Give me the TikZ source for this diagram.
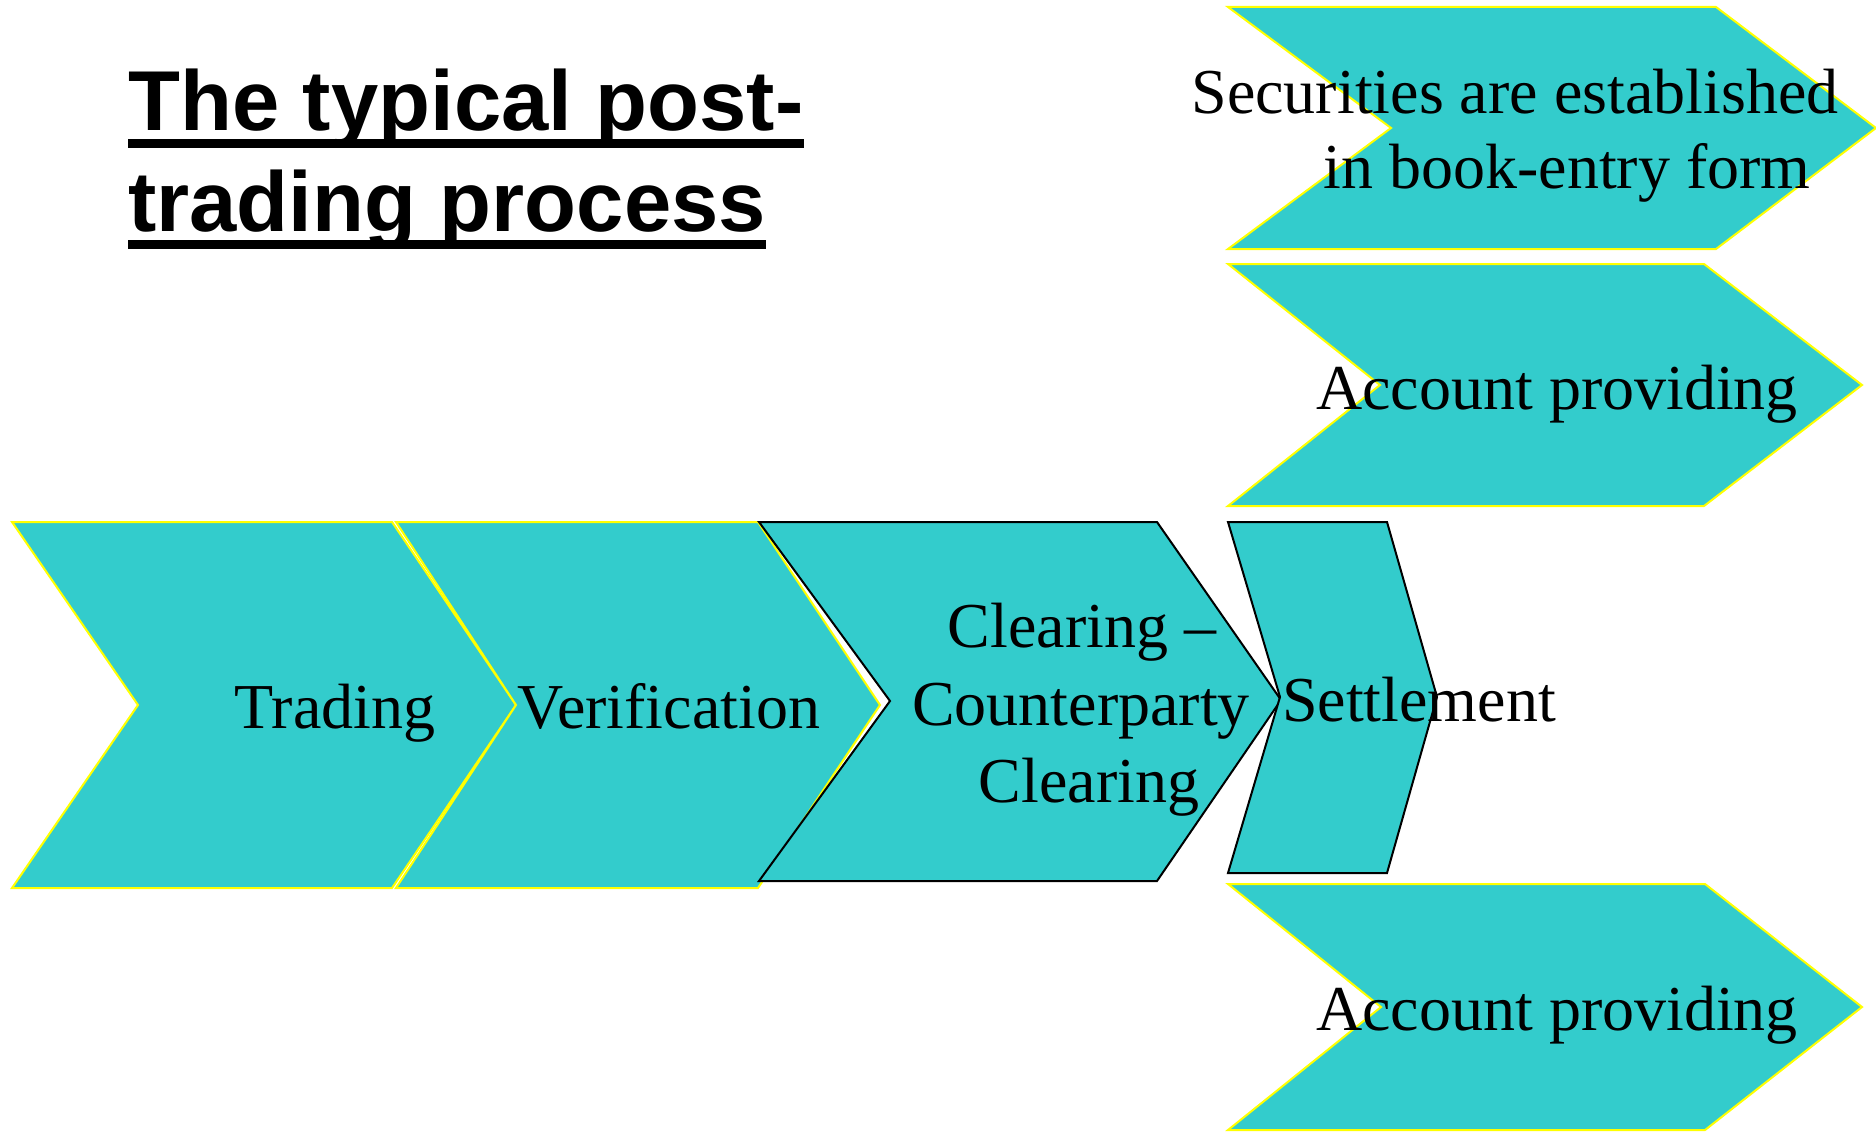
\documentclass[tikz,border=0pt]{standalone}
\usepackage{fontspec}
\setmainfont{Liberation Serif}
\newfontfamily\titlefont{Liberation Sans}
\definecolor{tealfill}{HTML}{33CCCC}
\definecolor{yelline}{HTML}{FFFF00}
\begin{document}
\begin{tikzpicture}[x=1pt,y=-1pt,
  ychev/.style={fill=tealfill, draw=yelline, line width=2pt},
  bchev/.style={fill=tealfill, draw=black, line width=2pt},
  lbl/.style={font=\fontsize{64}{77}\selectfont, inner sep=0pt, anchor=base},
  ttl/.style={font=\titlefont\bfseries\fontsize{85}{101}\selectfont, inner sep=0pt, anchor=base west},
  uline/.style={fill=black}]
\useasboundingbox (0,0) rectangle (1876,1132);
% title
\node[ttl] (t1) at (128,130) {The typical post-};
\node[ttl] (t2) at (128,231) {trading process};
\fill[uline] ([yshift=-9pt]t1.base west) rectangle ([yshift=-18pt]t1.base east);
\fill[uline] ([yshift=-9pt]t2.base west) rectangle ([yshift=-18pt]t2.base east);
% main row
\draw[ychev] (12,522) -- (392,522) -- (516,705) -- (392,888) -- (12,888) -- (138,705) -- cycle;
\draw[ychev] (396,522) -- (758,522) -- (880,705) -- (758,888) -- (396,888) -- (516,705) -- cycle;
\draw[bchev] (759,522) -- (1157,522) -- (1281,700) -- (1157,881) -- (759,881) -- (890,701) -- cycle;
\draw[bchev] (1228,522) -- (1387,522) -- (1437,697) -- (1387,873) -- (1228,873) -- (1280,697) -- cycle;
% right column
\draw[ychev] (1228,7) -- (1716,7) -- (1876,128) -- (1716,249) -- (1228,249) -- (1391,128) -- cycle;
\draw[ychev] (1228,264) -- (1704,264) -- (1862,385) -- (1704,506) -- (1228,506) -- (1380,385) -- cycle;
\draw[ychev] (1228,884) -- (1705,884) -- (1862,1007) -- (1705,1130) -- (1228,1130) -- (1381,1007) -- cycle;
% labels
\node[lbl] (trading) at (335,728) {Trading};
\node[lbl] (verif) at (669,728) {Verification};
\node[lbl] (clr1) at (1082,647) {Clearing –};
\node[lbl] (clr2) at (1081,725) {Counterparty};
\node[lbl] (clr3) at (1089,802) {Clearing};
\node[lbl] (settle) at (1419,721) {Settlement};
\node[lbl] (sec1) at (1515,113) {Securities are established};
\node[lbl] (sec2) at (1567,188) {in book-entry form};
\node[lbl] (acc1) at (1557,409) {Account providing};
\node[lbl] (acc2) at (1557,1030) {Account providing};
\end{tikzpicture}
\end{document}
